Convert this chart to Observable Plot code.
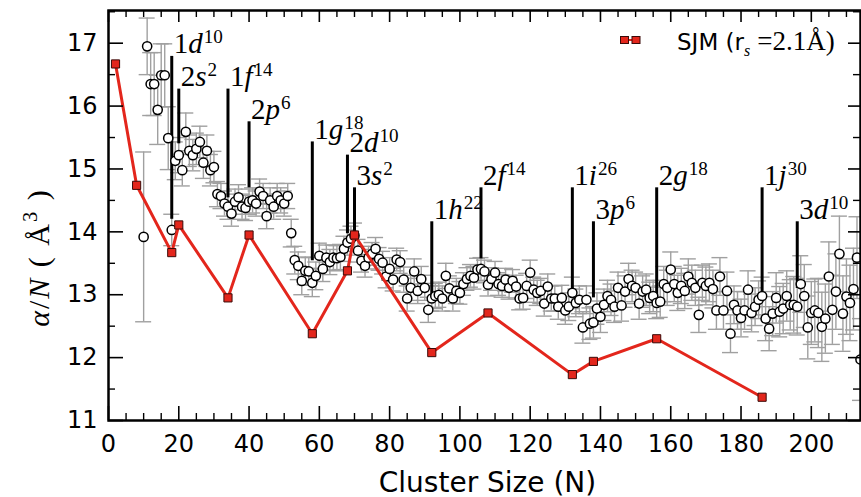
<!DOCTYPE html>
<html><head><meta charset="utf-8">
<script src="https://cdn.jsdelivr.net/npm/d3@7"></script>
<script src="https://cdn.jsdelivr.net/npm/@observablehq/plot@0.6"></script>
<style>
body{margin:0;background:#fff;}
#wrap{position:relative;width:861px;height:497px;overflow:hidden;}
#wrap svg{display:block;}
#legend{position:absolute;left:0;top:0;pointer-events:none;}
</style></head>
<body><div id="wrap"></div>
<script>
// ---------- data ----------
const clusterN = [
 10,11,12,13,14,15,16,17,18,19,
 20,21,22,23,24,25,26,27,28,29,
 30,31,32,33,34,35,36,37,38,39,
 40,41,42,43,44,45,46,47,48,49,
 50,51,52,53,54,55,56,57,58,59,
 60,61,62,63,64,65,66,67,68,69,
 70,71,72,73,74,75,76,77,78,79,
 80,81,82,83,84,85,86,87,88,89,
 90,91,92,93,94,95,96,97,98,99,
 100,101,102,103,104,105,106,107,108,109,
 110,111,112,113,114,115,116,117,118,119,
 120,121,122,123,124,125,126,127,128,129,
 130,131,132,133,134,135,136,137,138,139,
 140,141,142,143,144,145,146,147,148,149,
 150,151,152,153,154,155,156,157,158,159,
 160,161,162,163,164,165,166,167,168,169,
 170,171,172,173,174,175,176,177,178,179,
 180,181,182,183,184,185,186,187,188,189,
 190,191,192,193,194,195,196,197,198,199,
 200,201,202,203,204,205,206,207,208,209,
 210,211,212,213,214];
const alphaPerN = [
 13.92,16.95,16.35,16.35,15.94,16.49,16.49,15.49,14.03,15.13,
 15.22,14.98,15.59,15.29,15.22,15.32,15.43,15.10,15.29,14.98,
 15.03,14.60,14.57,14.45,14.40,14.29,14.48,14.55,14.40,14.38,
 14.48,14.50,14.45,14.64,14.57,14.25,14.50,14.40,14.57,14.50,
 14.45,14.57,13.98,13.55,13.46,13.22,13.38,13.37,13.19,13.30,
 13.62,13.41,13.59,13.52,13.59,13.58,13.60,13.73,13.83,13.89,
 13.94,13.70,13.54,13.46,13.59,13.65,13.73,13.57,13.51,13.29,
 13.41,13.24,13.56,13.52,13.24,12.94,13.11,13.37,13.06,13.25,
 13.11,12.76,12.94,12.98,13.00,12.94,13.30,13.10,12.94,13.06,
 13.03,13.17,13.25,13.30,13.27,13.40,13.41,13.37,13.16,13.25,
 13.35,13.17,13.14,13.24,13.11,13.22,13.13,12.94,12.95,13.14,
 13.35,13.08,13.03,13.06,12.86,13.13,12.94,12.94,12.81,12.95,
 12.75,12.81,13.03,12.87,12.92,12.48,12.92,12.54,12.56,12.78,
 12.65,12.84,12.98,12.92,12.81,13.11,12.83,13.05,13.25,13.14,
 13.11,12.86,13.05,13.08,12.95,12.98,12.87,12.89,13.17,13.11,
 13.40,13.17,13.03,13.14,13.06,13.29,13.19,13.11,12.68,13.19,
 13.14,13.19,13.09,12.75,13.29,12.75,13.06,12.38,12.84,12.75,
 12.63,12.75,13.08,12.71,12.81,12.92,12.98,12.62,12.46,12.70,
 12.95,12.73,12.78,12.98,12.84,12.84,12.81,13.17,12.98,12.48,
 12.71,12.75,12.71,12.49,12.62,13.29,12.76,13.05,13.65,12.70,
 12.97,12.87,13.09,13.59,11.97];
const alphaErr = [
 1.35,0.45,0.50,0.50,0.55,0.50,0.50,0.50,0.25,0.30,
 0.28,0.25,0.30,0.25,0.25,0.25,0.25,0.25,0.25,0.25,
 0.25,0.20,0.20,0.20,0.20,0.20,0.20,0.20,0.20,0.20,
 0.20,0.20,0.20,0.20,0.20,0.20,0.20,0.20,0.20,0.20,
 0.20,0.20,0.22,0.22,0.22,0.22,0.22,0.22,0.22,0.22,
 0.20,0.20,0.20,0.20,0.20,0.20,0.20,0.20,0.20,0.20,
 0.20,0.18,0.18,0.18,0.18,0.18,0.18,0.18,0.18,0.18,
 0.18,0.18,0.18,0.18,0.20,0.20,0.20,0.20,0.20,0.20,
 0.20,0.20,0.20,0.20,0.20,0.20,0.20,0.20,0.20,0.20,
 0.18,0.18,0.18,0.18,0.18,0.18,0.18,0.18,0.18,0.18,
 0.18,0.18,0.18,0.18,0.18,0.18,0.18,0.18,0.18,0.20,
 0.20,0.20,0.20,0.20,0.20,0.20,0.20,0.20,0.20,0.20,
 0.22,0.22,0.25,0.22,0.22,0.25,0.22,0.25,0.25,0.25,
 0.25,0.25,0.25,0.25,0.25,0.25,0.25,0.25,0.25,0.25,
 0.25,0.25,0.25,0.25,0.25,0.25,0.25,0.25,0.28,0.28,
 0.28,0.28,0.28,0.28,0.28,0.28,0.28,0.28,0.28,0.28,
 0.30,0.30,0.30,0.30,0.30,0.30,0.30,0.30,0.30,0.30,
 0.30,0.30,0.30,0.30,0.30,0.30,0.30,0.35,0.35,0.35,
 0.40,0.40,0.40,0.40,0.40,0.45,0.45,0.45,0.50,0.50,
 0.50,0.50,0.55,0.55,0.55,0.55,0.55,0.60,0.60,0.60,
 0.60,0.60,0.65,0.65,0.65];

const sjmN = [2, 8, 18, 20, 34, 40, 58, 68, 70, 92, 108, 132, 138, 156, 186];
const sjmAlpha = [16.67, 14.74, 13.67, 14.11, 12.95, 13.95, 12.38, 13.38, 13.95, 12.08, 12.71, 11.73, 11.94, 12.30, 11.37];

const shellN = [18, 20, 34, 40, 58, 68, 70, 92, 106, 132, 138, 156, 186, 196];
const shellTop = [16.79, 16.27, 16.27, 15.75, 15.43, 15.22, 14.70, 14.16, 14.70, 14.70, 14.16, 14.70, 14.70, 14.16];
const shellBottom = [14.20, 15.40, 14.54, 14.70, 13.54, 13.97, 13.97, 12.95, 13.57, 13.03, 12.95, 12.90, 12.98, 13.10];
const shellOrbital = ["1d","2s","1f","2p","1g","2d","3s","1h","2f","1i","3p","2g","1j","3d"];
const shellOcc = ["10","2","14","6","18","10","2","22","14","26","6","18","30","10"];

const xTicks = [0, 20, 40, 60, 80, 100, 120, 140, 160, 180, 200];
const xMinor = [5,10,15,25,30,35,45,50,55,65,70,75,85,90,95,105,110,115,125,130,135,145,150,155,165,170,175,185,190,195,205,210];
const yTicks = [11, 12, 13, 14, 15, 16, 17];
const yMinor = [11.5, 12.5, 13.5, 14.5, 15.5, 16.5, 17.5];
const xTitle = "Cluster Size (N)";
const legendLabel = "SJM";

// ---------- tables ----------
const measured = clusterN.map((n, i) => ({n, a: alphaPerN[i], e: alphaErr[i]}));
const sjm = sjmN.map((n, i) => ({n, a: sjmAlpha[i]}));
const shells = shellN.map((n, i) => ({n, top: shellTop[i], bottom: shellBottom[i], orb: shellOrbital[i], occ: shellOcc[i]}));

// ---------- layout ----------
const W = 861, H = 497, mL = 108, mR = 1, mT = 10, mB = 77;
const innerW = W - mL - mR, innerH = H - mT - mB;
const gray = "#a0a0a0", red = "#e3261c";
const Y_TITLE_KEY = "__ytitle__";

const chart = Plot.plot({
  width: W, height: H,
  marginLeft: mL, marginRight: mR, marginTop: mT, marginBottom: mB,
  style: {fontFamily: "DejaVu Sans", color: "black", background: "white", overflow: "visible"},
  x: {domain: [0, 214]},
  y: {domain: [11, 17.52]},
  marks: [
    // error bars
    Plot.ruleX(measured, {x: "n", y1: d => d.a - d.e, y2: d => d.a + d.e, stroke: gray, strokeWidth: 1.4, clip: true}),
    Plot.ruleY(measured, {y: d => d.a - d.e, x1: "n", x2: "n", insetLeft: -8, insetRight: -8, stroke: gray, strokeWidth: 1.4, clip: true}),
    Plot.ruleY(measured, {y: d => d.a + d.e, x1: "n", x2: "n", insetLeft: -8, insetRight: -8, stroke: gray, strokeWidth: 1.4, clip: true}),
    // shell closure markers
    Plot.ruleX(shells, {x: "n", y1: "bottom", y2: "top", stroke: "black", strokeWidth: 3}),
    // measured points
    Plot.dot(measured, {x: "n", y: "a", r: 4.6, fill: "white", stroke: "black", strokeWidth: 1.5, clip: true}),
    // SJM model
    Plot.line(sjm, {x: "n", y: "a", stroke: red, strokeWidth: 3}),
    Plot.dot(sjm, {x: "n", y: "a", symbol: "square", r: 4.6, fill: red, stroke: "#3a0a08", strokeWidth: 1}),
    // shell labels
    Plot.text(shells, {x: "n", y: "top", text: d => d.orb + d.occ, textAnchor: "start", lineAnchor: "bottom",
      dx: 2, dy: -3, fontSize: 29, fontFamily: "Liberation Serif", fill: "black"}),
    // ticks (inward, mirrored)
    Plot.tickY(yTicks, {y: d => d, insetRight: innerW - 15, strokeWidth: 1.6}),
    Plot.tickY(yTicks, {y: d => d, insetLeft: innerW - 12, strokeWidth: 1.6}),
    Plot.tickY(yMinor, {y: d => d, insetRight: innerW - 7, strokeWidth: 1.4}),
    Plot.tickY(yMinor, {y: d => d, insetLeft: innerW - 7, strokeWidth: 1.4}),
    Plot.tickX(xTicks, {x: d => d, insetTop: innerH - 14, strokeWidth: 1.6}),
    Plot.tickX(xTicks, {x: d => d, insetBottom: innerH - 12, strokeWidth: 1.6}),
    Plot.tickX(xMinor, {x: d => d, insetTop: innerH - 7, strokeWidth: 1.4}),
    Plot.tickX(xMinor, {x: d => d, insetBottom: innerH - 7, strokeWidth: 1.4}),
    // axes
    Plot.axisX({ticks: xTicks, tickFormat: d => String(d), tickSize: 0, tickPadding: 14, fontSize: 24, label: null}),
    Plot.axisY({ticks: yTicks, tickFormat: d => String(d), tickSize: 0, tickPadding: 11, fontSize: 24, label: null}),
    Plot.text([xTitle], {text: d => d, frameAnchor: "bottom", lineAnchor: "bottom", dy: 71, dx: 3, fontSize: 28}),
    Plot.text([Y_TITLE_KEY], {text: d => d, frameAnchor: "left", rotate: -90, textAnchor: "middle", lineAnchor: "bottom",
      dx: -60, dy: 42, fontSize: 30, fontFamily: "Liberation Serif"}),
    Plot.frame({stroke: "black", strokeWidth: 2.5})
  ]
});

// ---------- rich text post-processing ----------
const NS = "http://www.w3.org/2000/svg";
function rich(el, parts) {
  el.textContent = "";
  for (const p of parts) {
    const t = document.createElementNS(NS, "tspan");
    t.textContent = p.t;
    if (p.italic) t.setAttribute("font-style", "italic");
    if (p.size) t.setAttribute("font-size", p.size);
    if (p.dy) t.setAttribute("dy", p.dy);
    if (p.dx) t.setAttribute("dx", p.dx);
    if (p.family) t.setAttribute("font-family", p.family);
    el.appendChild(t);
  }
}
const shellByText = new Map(shells.map(s => [s.orb + s.occ, s]));
chart.querySelectorAll("text").forEach(el => {
  const txt = el.textContent;
  if (shellByText.has(txt)) {
    const s = shellByText.get(txt);
    rich(el, [{t: s.orb[0]}, {t: s.orb[1], italic: true}, {t: s.occ, size: "0.66em", dy: "-0.52em", dx: "1"}]);
  } else if (txt === Y_TITLE_KEY) {
    el.setAttribute("letter-spacing", "2");
    rich(el, [{t: "α", italic: true}, {t: "/"}, {t: "N", italic: true}, {t: " ( "}, {t: "Å"},
              {t: "3", size: "0.68em", dy: "-0.55em"}, {t: " )", dy: "0.37em"}]);
  }
});

const wrap = document.getElementById("wrap");
wrap.appendChild(chart);

// ---------- legend overlay ----------
const lg = d3.create("svg").attr("id", "legend").attr("width", W).attr("height", H);
lg.append("line").attr("x1", 624).attr("x2", 636).attr("y1", 40).attr("y2", 40).attr("stroke", red).attr("stroke-width", 2);
for (const cx of [624.5, 636]) {
  lg.append("rect").attr("x", cx - 4).attr("y", 36.5).attr("width", 8).attr("height", 7)
    .attr("fill", red).attr("stroke", "#3a0a08").attr("stroke-width", 1);
}
const lt = lg.append("text").attr("x", 677).attr("y", 50).attr("font-family", "DejaVu Sans").attr("font-size", 23).attr("fill", "black");
lt.append("tspan").text(legendLabel + " (r");
lt.append("tspan").attr("font-family", "Liberation Serif").attr("font-style", "italic").attr("font-size", 16).attr("dy", 6).text("s");
lt.append("tspan").attr("font-family", "Liberation Serif").attr("font-size", 27).attr("dy", -6).attr("dx", 7).text("=2.1Å)");
wrap.appendChild(lg.node());
</script>
</body></html>
